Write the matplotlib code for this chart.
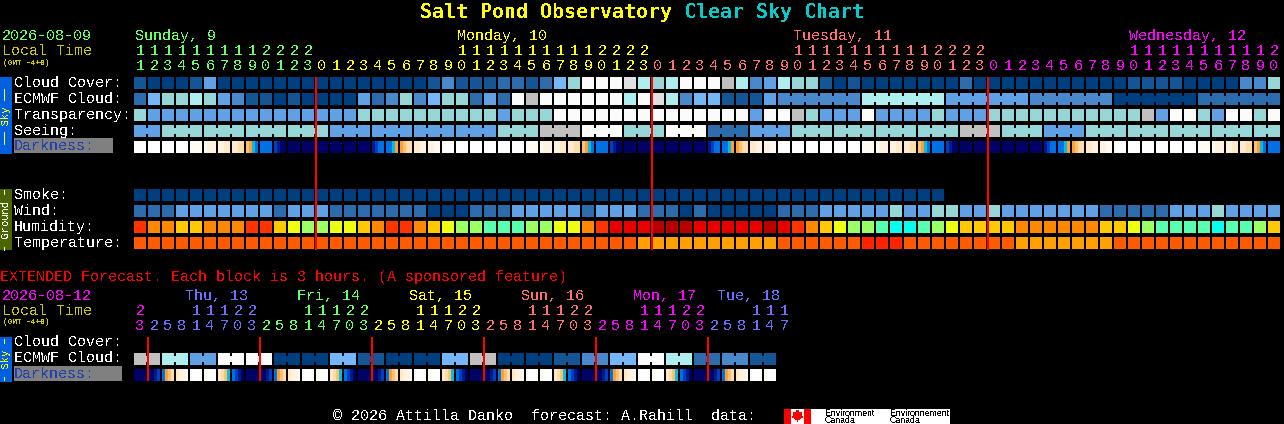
import matplotlib
matplotlib.use("Agg")
import matplotlib.pyplot as plt
from matplotlib.patches import Polygon

plt.rcParams['font.family'] = ['Liberation Mono', 'DejaVu Sans Mono']
plt.rcParams['text.antialiased'] = False
plt.rcParams['text.hinting'] = 'native'

# sky levels, 0 = clear / best ... 10 = grey
cloud_cover = [1,0,0,0,1,4,0,0,0,0,0,0,0,0,0,0,0,0,0,0,0,
               1,3,1,1,1,2,2,1,2,5,6,8,8,8,9,7,6,7,8,8,8,10,7,3,4,7,6,6,1,0,1,
               0,0,0,0,0,0,0,2,0,0,0,0,0,0,0,0,0,0,0,1,1,1,1,0,0,0,0,3,3,6]
ecmwf_cloud = [2,5,6,6,7,6,4,3,1,1,0,1,0,0,0,0,4,2,3,6,3,
               5,6,6,2,4,2,8,10,8,8,8,8,8,8,7,8,9,7,3,5,5,1,1,1,4,
               3,3,3,3,3,3,7,7,7,7,7,7,4,4,4,4,4,4,3,3,3,3,3,3,0,0,0,0,0,0,2,2,2,2,2,2]
transparency = [6,4,4,4,4,4,4,4,4,4,4,4,4,4,4,4,6,6,6,6,6,
                6,6,6,6,6,4,6,6,6,8,8,8,8,8,8,8,8,8,8,8,8,8,8,4,8,8,10,6,4,4,4,
                8,4,4,4,4,6,4,4,4,6,6,6,6,6,6,6,6,6,6,6,10,4,8,8,6,4,8,8,6,8]
seeing = [4,4,6,6,6,6,6,6,6,6,6,6,6,6,4,4,4,4,4,4,4,4,4,4,4,4,6,6,6,10,10,10,
          8,8,8,6,6,6,8,8,8,2,2,2,4,4,4,6,6,6,6,6,6,6,6,6,6,6,6,10,10,10,
          6,6,6,4,4,4,6,6,6,6,6,6,6,6,6,6,6,6,6,6]
smoke = [0]*58
wind = [2,2,2,4,4,4,4,4,4,4,2,4,4,4,2,2,2,2,2,2,2,
        0,0,0,2,2,2,4,4,4,4,4,2,4,4,4,2,2,2,0,2,0,0,0,0,0,2,2,2,4,4,4,
        4,4,6,4,4,6,6,4,4,6,4,4,4,4,4,4,4,2,2,2,2,2,4,4,4,6,4,4,4,4]
humidity = "gffeefffggedccddefggf" "edccbbbccddfghhhiiihhhhhihgfedc" "cbaabcdeeeeffffffeedcbbbbabbce"
temperature = "ooooooooooooooooooooo" "ooooooooooooooo" "aaaaaaaaaa" "oooooo" "rrr" "ooooooo" "o" "aaaaaaa" "oooooooooooo"

# darkness: four colour steps inside each hour block
darkness = ["WWWW","WWWW","WWWW","WWWW","VVVV","VCCC","CCDD","DDEE","FGHI","IIII","JKLL","LLLL",
            "LLLL","LLLL","LLLL","LLLL","LLLL","KJII","IIHG","GFEE","DDCC","CCVV","VWWW","WWWW",
            "WWWW","WWWW","WWWW","WWWW","VVVV","VCCC","CCDD","DDEE","FGHI","IIII","JKLL","LLLL",
            "LLLL","LLLL","LLLL","LLLL","LLLL","KJII","IIHG","GFEE","DDCC","CCVV","VWWW","WWWW",
            "WWWW","WWWW","WWWW","WWWW","VVVV","VCCC","CCDD","DDEE","FGHI","IIII","JKLL","LLLL",
            "LLLL","LLLL","LLLL","LLLL","LLLL","KJII","IIHG","GFEE","DDCC","CCVV","VWWW","WWWW",
            "WWWW","WWWW","WWWW","WWWW","VVVV","VCCC","CCDD","DDEE","FGHI","IIII"]

# extended forecast, 3 hour blocks
ext_ecmwf = [10,10,7,7,4,4,8,8,8,8,0,0,0,0,5,5,1,1,0,0,0,0,5,5,10,10,0,0,0,0,1,1,3,3,5,5,8,8,7,7,2,2,3,3,1,1]
ext_darkness = ["LLLL","LLKJ","IGFE","DCCV","WWWW","VWWW","DEFH","IJKL",
                "LLLL","LLKJ","IGFE","DCCV","WWWW","VWWW","DEFH","IJKL",
                "LLLL","LLKJ","IGFE","DCCV","WWWW","VWWW","DEFH","IJKL",
                "LLLL","LLKJ","IGFE","DCCV","WWWW","VWWW","DEFH","IJKL",
                "LLLL","LLKJ","IGFE","DCCV","WWWW","VWWW","DEFH","IJKL",
                "LLLL","LLKJ","IGFE","DCCV","WWWW","VWWW"]

# hour labels, main chart
day_names = ["Sunday, 9", "Monday, 10", "Tuesday, 11", "Wednesday, 12"]
day_lengths = [13, 24, 24, 21]
first_hours = [11, 0, 0, 0]
day_colors = ["#66ff66", "#ffff00", "#ff7070", "#ff00ff"]

# hour labels, extended chart
ext_days = ["", "Thu, 13", "Fri, 14", "Sat, 15", "Sun, 16", "Mon, 17", "Tue, 18"]
ext_hours = [[23], [2,5,8,11,14,17,20,23], [2,5,8,11,14,17,20,23], [2,5,8,11,14,17,20,23],
             [2,5,8,11,14,17,20,23], [2,5,8,11,14,17,20,23], [2,5,8,11,14,17]]
ext_colors = ["#ff00ff", "#7070ff", "#66ff66", "#ffff00", "#ff7070", "#ff00ff", "#7070ff"]

sky_palette = ["#003f7f", "#135595", "#2c6cac", "#4a88cc", "#60a0e4", "#74b6f8",
               "#96d6d6", "#aeeeee", "#fbfbfb", "#e0e0e0", "#c0c0c0"]
hum_palette = {"a": "#08ffee", "b": "#58ffb0", "c": "#9bff66", "d": "#eeff10", "e": "#ffc800",
               "f": "#ff8800", "g": "#ff3300", "h": "#e80000", "i": "#b80000"}
temp_palette = {"r": "#ff2200", "o": "#ff5a00", "a": "#ffa000"}
dark_palette = {"W": "#ffffff", "V": "#fffaf2", "C": "#fff3e0", "D": "#ffe9cc", "E": "#ffdcaa",
                "F": "#ffc070", "G": "#ffa030", "H": "#00c0e0", "I": "#0070e8", "J": "#0040c0",
                "K": "#001a90", "L": "#000066"}

X0 = 134
STEP = 14
CELL = 12

fig = plt.figure(figsize=(12.84, 4.24), dpi=100, facecolor="black")
ax = fig.add_axes([0, 0, 1, 1])
ax.set_xlim(0, 1284)
ax.set_ylim(424, 0)
ax.axis("off")


def fila(y, colores, grupos=None):
    xs = [X0 + STEP * i for i in range(len(colores))]
    ax.bar(xs, CELL, CELL, bottom=y, color=colores, align="edge", antialiased=False, linewidth=0)
    if grupos is None:
        return
    # bridges between the blocks of one forecast step
    for i in range(len(colores) - 1):
        if grupos[i] == grupos[i + 1]:
            ax.bar(xs[i] + CELL, 6, STEP - CELL, bottom=y + 3, color=colores[i],
                   align="edge", antialiased=False, linewidth=0)


def fila_oscura(y, valores):
    for i, pasos in enumerate(valores):
        for j, c in enumerate(pasos):
            ax.bar(X0 + STEP * i + 3 * j, CELL, 3, bottom=y, color=dark_palette[c],
                   align="edge", antialiased=False, linewidth=0)


def texto(x, y, s, color="white", size=10.82, **kw):
    ax.text(x, y, s, color=color, fontsize=size, va="baseline", **kw)


def etiqueta(y0, y1, s, fondo, color, size=7.6):
    ax.bar(0, y1 - y0, 12, bottom=y0, color=fondo, align="edge", antialiased=False, linewidth=0)
    ax.text(6, (y0 + y1) / 2, s, color=color, fontsize=size, rotation=90, ha="center", va="center")


# title
ax.text(420, 18, "Salt Pond Observatory", color="#ffff00", fontsize=14.4, fontweight="bold", va="baseline",
        family=["DejaVu Sans Mono"])
ax.text(684, 18, "Clear Sky Chart", color="#00cccc", fontsize=14.4, fontweight="bold", va="baseline",
        family=["DejaVu Sans Mono"])

# header of the main chart
texto(2, 40, "2026-08-09", "#66ff66")
texto(2, 55, "Local Time", "#cccc00")
texto(3, 65, "(GMT -4+0)", "#cccc00", size=5.6, fontweight="bold")
col = 0
for nombre, largo, h0, c in zip(day_names, day_lengths, first_hours, day_colors):
    for h in range(h0, h0 + largo):
        x = X0 + STEP * col + CELL / 2
        if h == 10 or (h0 == 11 and h == 11):
            texto(x - 5, 40, nombre, c)
        if h >= 10:
            texto(x, 55, str(h // 10), c, ha="center")
        texto(x, 70, str(h % 10), c, ha="center")
        col += 1

# main rows
etiqueta(77, 154, "\u2014\u2014 Sky \u2014\u2014", "#0060e0", "#ffff00")
for y, s in zip([87, 103, 119, 135], ["Cloud Cover:", "ECMWF Cloud:", "Transparency:", "Seeing:"]):
    texto(14, y, s)
ax.bar(14, 15, 99, bottom=138, color="#808080", align="edge", antialiased=False, linewidth=0)
texto(14, 150, "Darkness:", "#2040b0")

fila(77, [sky_palette[v] for v in cloud_cover])
grupos_ecmwf = [i if i < 46 else (i - 46) // 6 + 100 for i in range(len(ecmwf_cloud))]
fila(93, [sky_palette[v] for v in ecmwf_cloud], grupos_ecmwf)
fila(109, [sky_palette[v] for v in transparency])
fila(125, [sky_palette[v] for v in seeing], [(i + 1) // 3 for i in range(len(seeing))])
fila_oscura(141, darkness)

etiqueta(189, 250, "\u2013 Ground \u2013", "#4a6400", "white")
for y, s in zip([199, 215, 231, 247], ["Smoke:", "Wind:", "Humidity:", "Temperature:"]):
    texto(14, y, s)
fila(189, [sky_palette[v] for v in smoke])
fila(205, [sky_palette[v] for v in wind])
fila(221, [hum_palette[v] for v in humidity])
fila(237, [temp_palette[v] for v in temperature])

# midnight lines
for k in [13, 37, 61]:
    ax.bar(X0 + STEP * k - 1, 173, 2, bottom=77, color="#ff0000", align="edge", antialiased=False, linewidth=0)

# extended forecast
texto(0, 281, "EXTENDED Forecast. Each block is 3 hours. (A sponsored feature)", "#ff0000")
texto(2, 300, "2026-08-12", "#ff00ff")
texto(2, 315, "Local Time", "#cccc00")
texto(3, 324, "(GMT -4+0)", "#cccc00", size=5.6, fontweight="bold")
col = 0
for nombre, horas, c in zip(ext_days, ext_hours, ext_colors):
    for n, h in enumerate(horas):
        x = X0 + STEP * col + CELL / 2
        if n == 0 and nombre:
            dx = 9 if len(horas) < 8 else 37
            texto(X0 + STEP * col + dx, 300, nombre, c)
        if h >= 10:
            texto(x, 315, str(h // 10), c, ha="center")
        texto(x, 330, str(h % 10), c, ha="center")
        col += 1

etiqueta(337, 382, "\u2013 Sky \u2013", "#0060e0", "#ffff00")
texto(14, 346, "Cloud Cover:")
texto(14, 362, "ECMWF Cloud:")
ax.bar(14, 15, 108, bottom=366, color="#808080", align="edge", antialiased=False, linewidth=0)
texto(14, 378, "Darkness:", "#2040b0")
fila(353, [sky_palette[v] for v in ext_ecmwf], [i // 2 for i in range(len(ext_ecmwf))])
fila_oscura(369, ext_darkness)
for k in [1, 9, 17, 25, 33, 41]:
    ax.bar(X0 + STEP * k - 1, 44, 2, bottom=337, color="#ff0000", align="edge", antialiased=False, linewidth=0)

# footer and logo
texto(333, 420, "\u00a9 2026 Attilla Danko  forecast: A.Rahill  data:")
ax.bar(784, 15, 166, bottom=409, color="white", align="edge", antialiased=False, linewidth=0)
ax.bar(784, 15, 7, bottom=409, color="#ff0000", align="edge", antialiased=False, linewidth=0)
ax.bar(804, 15, 7, bottom=409, color="#ff0000", align="edge", antialiased=False, linewidth=0)
ax.add_patch(Polygon([(797.5, 410), (799.5, 413), (802, 412.5), (801, 416), (802.5, 417), (798, 420),
                      (798, 422), (797, 422), (797, 420), (792.5, 417), (794, 416), (793, 412.5), (795.5, 413)],
                     closed=True, color="#ff0000", linewidth=0, antialiased=False))
for x, s in zip([825, 890], ["Environment", "Environnement"]):
    ax.text(x, 416, s, color="black", fontsize=6.3, family=["Liberation Sans"], va="baseline")
    ax.text(x, 423, "Canada", color="black", fontsize=6.3, family=["Liberation Sans"], va="baseline")

fig.savefig("out.png", dpi=100, facecolor="black")
